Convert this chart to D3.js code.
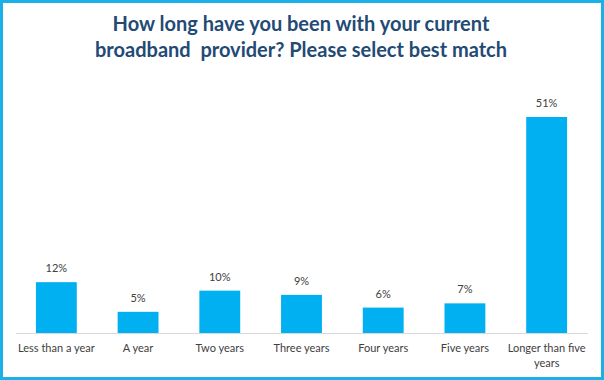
<!DOCTYPE html>
<html><head><meta charset="utf-8">
<script src="https://cdn.jsdelivr.net/npm/d3@7"></script>
<style>html,body{margin:0;padding:0;background:#fff;}svg{display:block;}</style>
</head><body>
<svg id="c" width="604" height="380"></svg>
<script>
const categories = ["Less than a year","A year","Two years","Three years","Four years","Five years","Longer than five years"];
const values = [12, 5, 10, 9, 6, 7, 51];
const valueLabels = ["12%","5%","10%","9%","6%","7%","51%"];
const titleLines = ["How long have you been with your current","broadband  provider? Please select best match"];

const W = 604, H = 380;
const svg = d3.select("#c");
svg.append("rect").attr("x",1.5).attr("y",1.5).attr("width",W-3).attr("height",H-3)
  .attr("fill","#fff").attr("stroke","#1cb0e8").attr("stroke-width",3);

const title = svg.append("text").attr("text-anchor","middle")
  .attr("font-family","Lato, 'Open Sans', sans-serif").attr("font-weight","bold")
  .attr("font-size",20).attr("fill","#234a75");
titleLines.forEach((t,i)=>{
  title.append("tspan").attr("x",301).attr("y",31 + i*26).text(t).style("white-space","pre");
});

const x = d3.scaleBand().domain(categories).range([15.5,587.5]).paddingInner(0.5).paddingOuter(0.25);
const y = d3.scaleLinear().domain([0,51]).range([333,117]);

const g = svg.append("g");
g.selectAll("rect.bar").data(values).join("rect").attr("class","bar")
  .attr("x",(d,i)=>x(categories[i])).attr("width",x.bandwidth())
  .attr("y",d=>y(d)).attr("height",d=>y(0)-y(d)).attr("fill","#00b0f0");

g.selectAll("text.val").data(values).join("text").attr("class","val")
  .attr("x",(d,i)=>x(categories[i])+x.bandwidth()/2).attr("y",d=>y(d)-10)
  .attr("text-anchor","middle").attr("font-family","Lato, 'Open Sans', sans-serif")
  .attr("font-size",11).attr("fill","#404040").text((d,i)=>valueLabels[i]);

const axis = d3.axisBottom(x).tickSize(0).tickPadding(0);
const ax = svg.append("g").attr("transform","translate(0,333)").call(axis);
ax.select(".domain").attr("stroke","#d9d9d9").attr("stroke-width",1);
ax.selectAll(".tick text").attr("font-family","Lato, 'Open Sans', sans-serif")
  .attr("font-size",11).attr("fill","#404040").attr("dy",null).attr("y",0)
  .each(function(d){
    const t = d3.select(this); t.text(null);
    const lines = d === "Longer than five years" ? ["Longer than five","years"] : [d];
    lines.forEach((l,i)=>t.append("tspan").attr("x",0).attr("y",19 + i*15).text(l));
  });
</script>
</body></html>
